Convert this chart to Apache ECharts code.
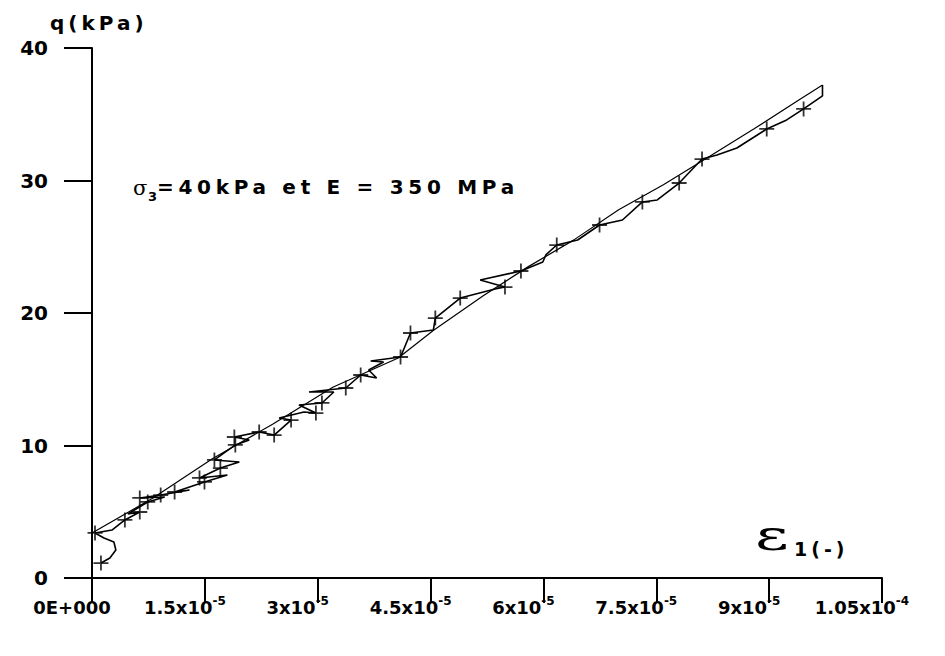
<!DOCTYPE html>
<html>
<head>
<meta charset="utf-8">
<script src="https://cdn.jsdelivr.net/npm/echarts@6/dist/echarts.min.js"></script>
<style>
html, body { margin: 0; padding: 0; background: #fff; }
#main { width: 945px; height: 656px; }
/* the old bitmap font of the original is wide-set: emulate it with letter spacing */
#main text[style*="spacedA"] { letter-spacing: 4.7px; }
#main text[style*="spacedB"] { letter-spacing: 4px; }
</style>
</head>
<body>
<div id="main"></div>
<script>
// strain eps1 in units of 1e-6, deviator stress q in kPa
const measEps = [1.19, 2.38, 3.17, 2.91, 1.59, 0.40, 2.65, 4.37, 6.35, 4.76, 7.41, 9.66, 6.35, 9.13, 12.96, 10.98,
  14.95, 17.99, 14.29, 17.06, 19.58, 16.27, 19.05, 20.90, 18.92, 22.22, 24.21, 26.46, 24.87, 28.17, 29.76, 27.51,
  30.56, 32.14, 28.84, 33.73, 35.71, 37.83, 36.77, 38.76, 37.04, 41.01, 42.33, 45.37, 45.63, 48.94, 53.57, 54.89,
  51.59, 57.01, 59.92, 60.32, 61.77, 64.55, 67.46, 70.50, 73.15, 75.13, 78.04, 81.08, 83.07, 85.71, 89.68, 92.33,
  94.58, 97.09, 97.09];
const measQ = [1.13, 1.51, 2.11, 2.72, 3.02, 3.40, 3.62, 4.38, 4.98, 4.83, 5.74, 6.11, 6.04, 6.26, 6.64, 6.49,
  7.25, 7.77, 7.55, 8.30, 8.75, 8.91, 10.04, 10.42, 10.64, 11.02, 10.79, 11.92, 12.08, 12.53, 12.45, 13.06,
  13.21, 14.04, 14.04, 14.34, 15.32, 15.09, 15.70, 16.30, 16.38, 16.68, 18.49, 18.72, 19.62, 21.13, 21.81, 21.96,
  22.49, 23.17, 23.85, 24.38, 25.13, 25.51, 26.64, 27.02, 28.38, 28.53, 29.81, 31.62, 31.92, 32.45, 33.89, 34.57,
  35.40, 36.38, 37.21];
// points of the measured curve that carry a "+" marker
const markIdx = [0, 5, 7, 8, 10, 12, 13, 15, 16, 18, 19, 21, 22, 24, 25, 26, 27, 30, 32, 35, 36, 41, 42, 44, 45,
  47, 49, 52, 54, 56, 58, 59, 62, 64];
// model curve E = 350 MPa
const modelEps = [0, 8, 16, 24, 32, 40.7, 45.4, 52, 58, 64, 70, 76, 82, 88, 94, 97.09];
const modelQ = [3.4, 6.0, 9.0, 11.6, 14.4, 16.6, 18.7, 21.3, 23.5, 25.5, 27.8, 29.7, 31.8, 33.9, 36.1, 37.21];
// x tick labels (mantissa + exponent)
const tickMant = ['0E+000', '1.5x10', '3x10', '4.5x10', '6x10', '7.5x10', '9x10', '1.05x10'];
const tickExp = ['', '-5', '-5', '-5', '-5', '-5', '-5', '-4'];

const chart = echarts.init(document.getElementById('main'), null, { renderer: 'svg' });
const dv = "'DejaVu Sans', sans-serif";

chart.setOption({
  animation: false,
  backgroundColor: '#fff',
  grid: { left: 92, right: 63, top: 48, bottom: 78, outerBoundsMode: 'none' },
  xAxis: {
    type: 'value', min: 0, max: 105, interval: 15,
    axisLine: { show: true, onZero: false, lineStyle: { color: '#000', width: 2 } },
    axisTick: { show: true, inside: false, length: 25, lineStyle: { color: '#000', width: 2 } },
    splitLine: { show: false },
    axisLabel: {
      margin: 17, padding: [0, 40, 0, 0],
      formatter: v => {
        const i = Math.round(v / 15);
        return tickExp[i] ? '{m|' + tickMant[i] + '}{e|' + tickExp[i] + '}' : '{m|' + tickMant[i] + '}';
      },
      rich: {
        m: { fontSize: 18, fontWeight: 'bold', fontFamily: dv, color: '#000', lineHeight: 24 },
        e: { fontSize: 12, fontWeight: 'bold', fontFamily: dv, color: '#000', verticalAlign: 'top', lineHeight: 12 }
      }
    }
  },
  yAxis: {
    type: 'value', min: 0, max: 40, interval: 10,
    axisLine: { show: true, onZero: false, lineStyle: { color: '#000', width: 2 } },
    axisTick: { show: true, inside: false, length: 28, lineStyle: { color: '#000', width: 2 } },
    splitLine: { show: false },
    axisLabel: { margin: 44, fontSize: 20, fontWeight: 'bold', fontFamily: dv, color: '#000' }
  },
  graphic: [
    { type: 'text', left: 50, top: 13, style: { text: 'q(kPa)', font: "bold 20px spacedB, 'DejaVu Sans', sans-serif", fill: '#000' } },
    { type: 'text', left: 133, top: 177, style: { text: 'σ', font: "21px 'DejaVu Serif', serif", fill: '#000' } },
    { type: 'text', left: 148, top: 190, style: { text: '3', font: "bold 13px 'DejaVu Sans', sans-serif", fill: '#000' } },
    { type: 'text', left: 157, top: 177, style: { text: '=40kPa et E = 350 MPa', font: "bold 20px spacedA, 'DejaVu Sans', sans-serif", fill: '#000' } },
    { type: 'text', x: 755, y: 514, scaleX: 1.55, style: { text: 'ε', font: "42px 'DejaVu Serif', serif", fill: '#000', textVerticalAlign: 'top' } },
    { type: 'text', left: 794, top: 539, style: { text: '1(-)', font: "bold 19px spacedB, 'DejaVu Sans', sans-serif", fill: '#000' } }
  ],
  series: [
    {
      name: 'model', type: 'line', showSymbol: false, symbol: 'none',
      lineStyle: { color: '#000', width: 1.2 },
      data: modelEps.map((e, i) => [e, modelQ[i]])
    },
    {
      name: 'measured', type: 'line', showSymbol: false, symbol: 'none',
      lineStyle: { color: '#000', width: 1.6 },
      data: measEps.map((e, i) => [e, measQ[i]])
    },
    {
      name: 'points', type: 'scatter',
      symbol: 'path://M0,8H16M8,0V16', symbolSize: 15,
      itemStyle: { color: 'none', borderColor: '#000', borderWidth: 1.8 },
      data: markIdx.map(i => [measEps[i], measQ[i]])
    }
  ]
});
</script>
</body>
</html>
